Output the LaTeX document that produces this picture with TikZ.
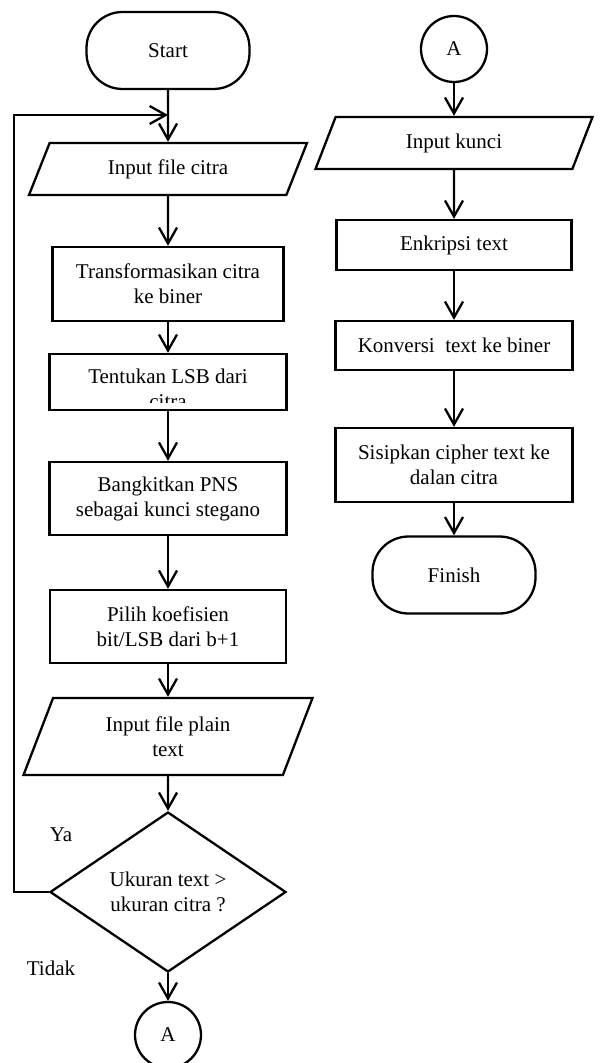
\documentclass[tikz,border=0pt]{standalone}
\usepackage{fontspec}
\setmainfont{Liberation Serif}
\usetikzlibrary{shapes.geometric,arrows.meta}

\begin{document}
\begin{tikzpicture}[x=1pt, y=-1pt, line width=2.3pt,
    font=\fontsize{21}{25}\selectfont,
    >={Straight Barb[length=16pt,width=18pt]},
    terminal/.style={draw, rounded corners=36pt, minimum width=163, minimum height=77},
    proc/.style={draw, align=center, inner sep=0pt},
    io/.style={draw, align=center, inner sep=0pt, trapezium, trapezium stretches body,
      trapezium left angle=#1, trapezium right angle=180-#1},
    connector/.style={draw, circle, minimum size=66}]
  \useasboundingbox (0,0) rectangle (600,1063);
  % left column
  \node[terminal] (start) at (168,50.5) {Start};
  \coordinate (join) at (168,115);
  \node[io=43, minimum width=278, minimum height=52] (citra) at (168,169) {Input file citra};
  \node[proc, minimum width=231, minimum height=74] (trans) at (168,284) {Transformasikan citra\\ke biner};
  \node[proc, minimum width=237, minimum height=56] (lsb) at (168,382) {};
  \begin{scope}
    \clip ([xshift=2pt]lsb.north west) rectangle ([yshift=9pt]lsb.south east);
    \node[align=center, inner sep=0pt] at (168,389) {Tentukan LSB dari\\citra};
  \end{scope}
  \node[proc, minimum width=237, minimum height=73] (pns) at (168,498.5) {Bangkitkan PNS\\sebagai kunci stegano};
  \node[proc, minimum width=236, minimum height=73] (pilih) at (168,626.5) {Pilih koefisien\\bit/LSB dari b+1};
  \node[io=53.5, minimum width=289, minimum height=77] (plain) at (168,736.5) {Input file plain\\text};
  \node[draw, diamond, align=center, inner sep=0pt, minimum width=236, minimum height=160] (dec) at (168,892) {Ukuran text >\\ukuran citra ?};
  \node[connector] (conA) at (168,1035) {A};
  \node (ya) at (61,835) {Ya};
  \node (tidak) at (51,968) {Tidak};
  % right column
  \node[connector] (conB) at (454,49) {A};
  \node[io=43.4, minimum width=277, minimum height=52] (kunci) at (454,143) {Input kunci};
  \node[proc, minimum width=235, minimum height=50] (enk) at (454,245) {Enkripsi text};
  \node[proc, minimum width=237, minimum height=49] (konv) at (454,345.5) {Konversi\ \ text ke biner};
  \node[proc, minimum width=237, minimum height=74] (sisip) at (454,465) {Sisipkan cipher text ke\\dalan citra};
  \node[terminal] (finish) at (454,575) {Finish};

  \foreach \a/\b in {start/citra, citra/trans, trans/lsb, lsb/pns, pns/pilih, pilih/plain,
    plain/dec, dec/conA, conB/kunci, kunci/enk, enk/konv, konv/sisip, sisip/finish} {
    \draw[->] (\a) -- (\b);
  }
  \draw[->] (dec.west) -- ++(-35,0) |- (join);
\end{tikzpicture}
\end{document}
